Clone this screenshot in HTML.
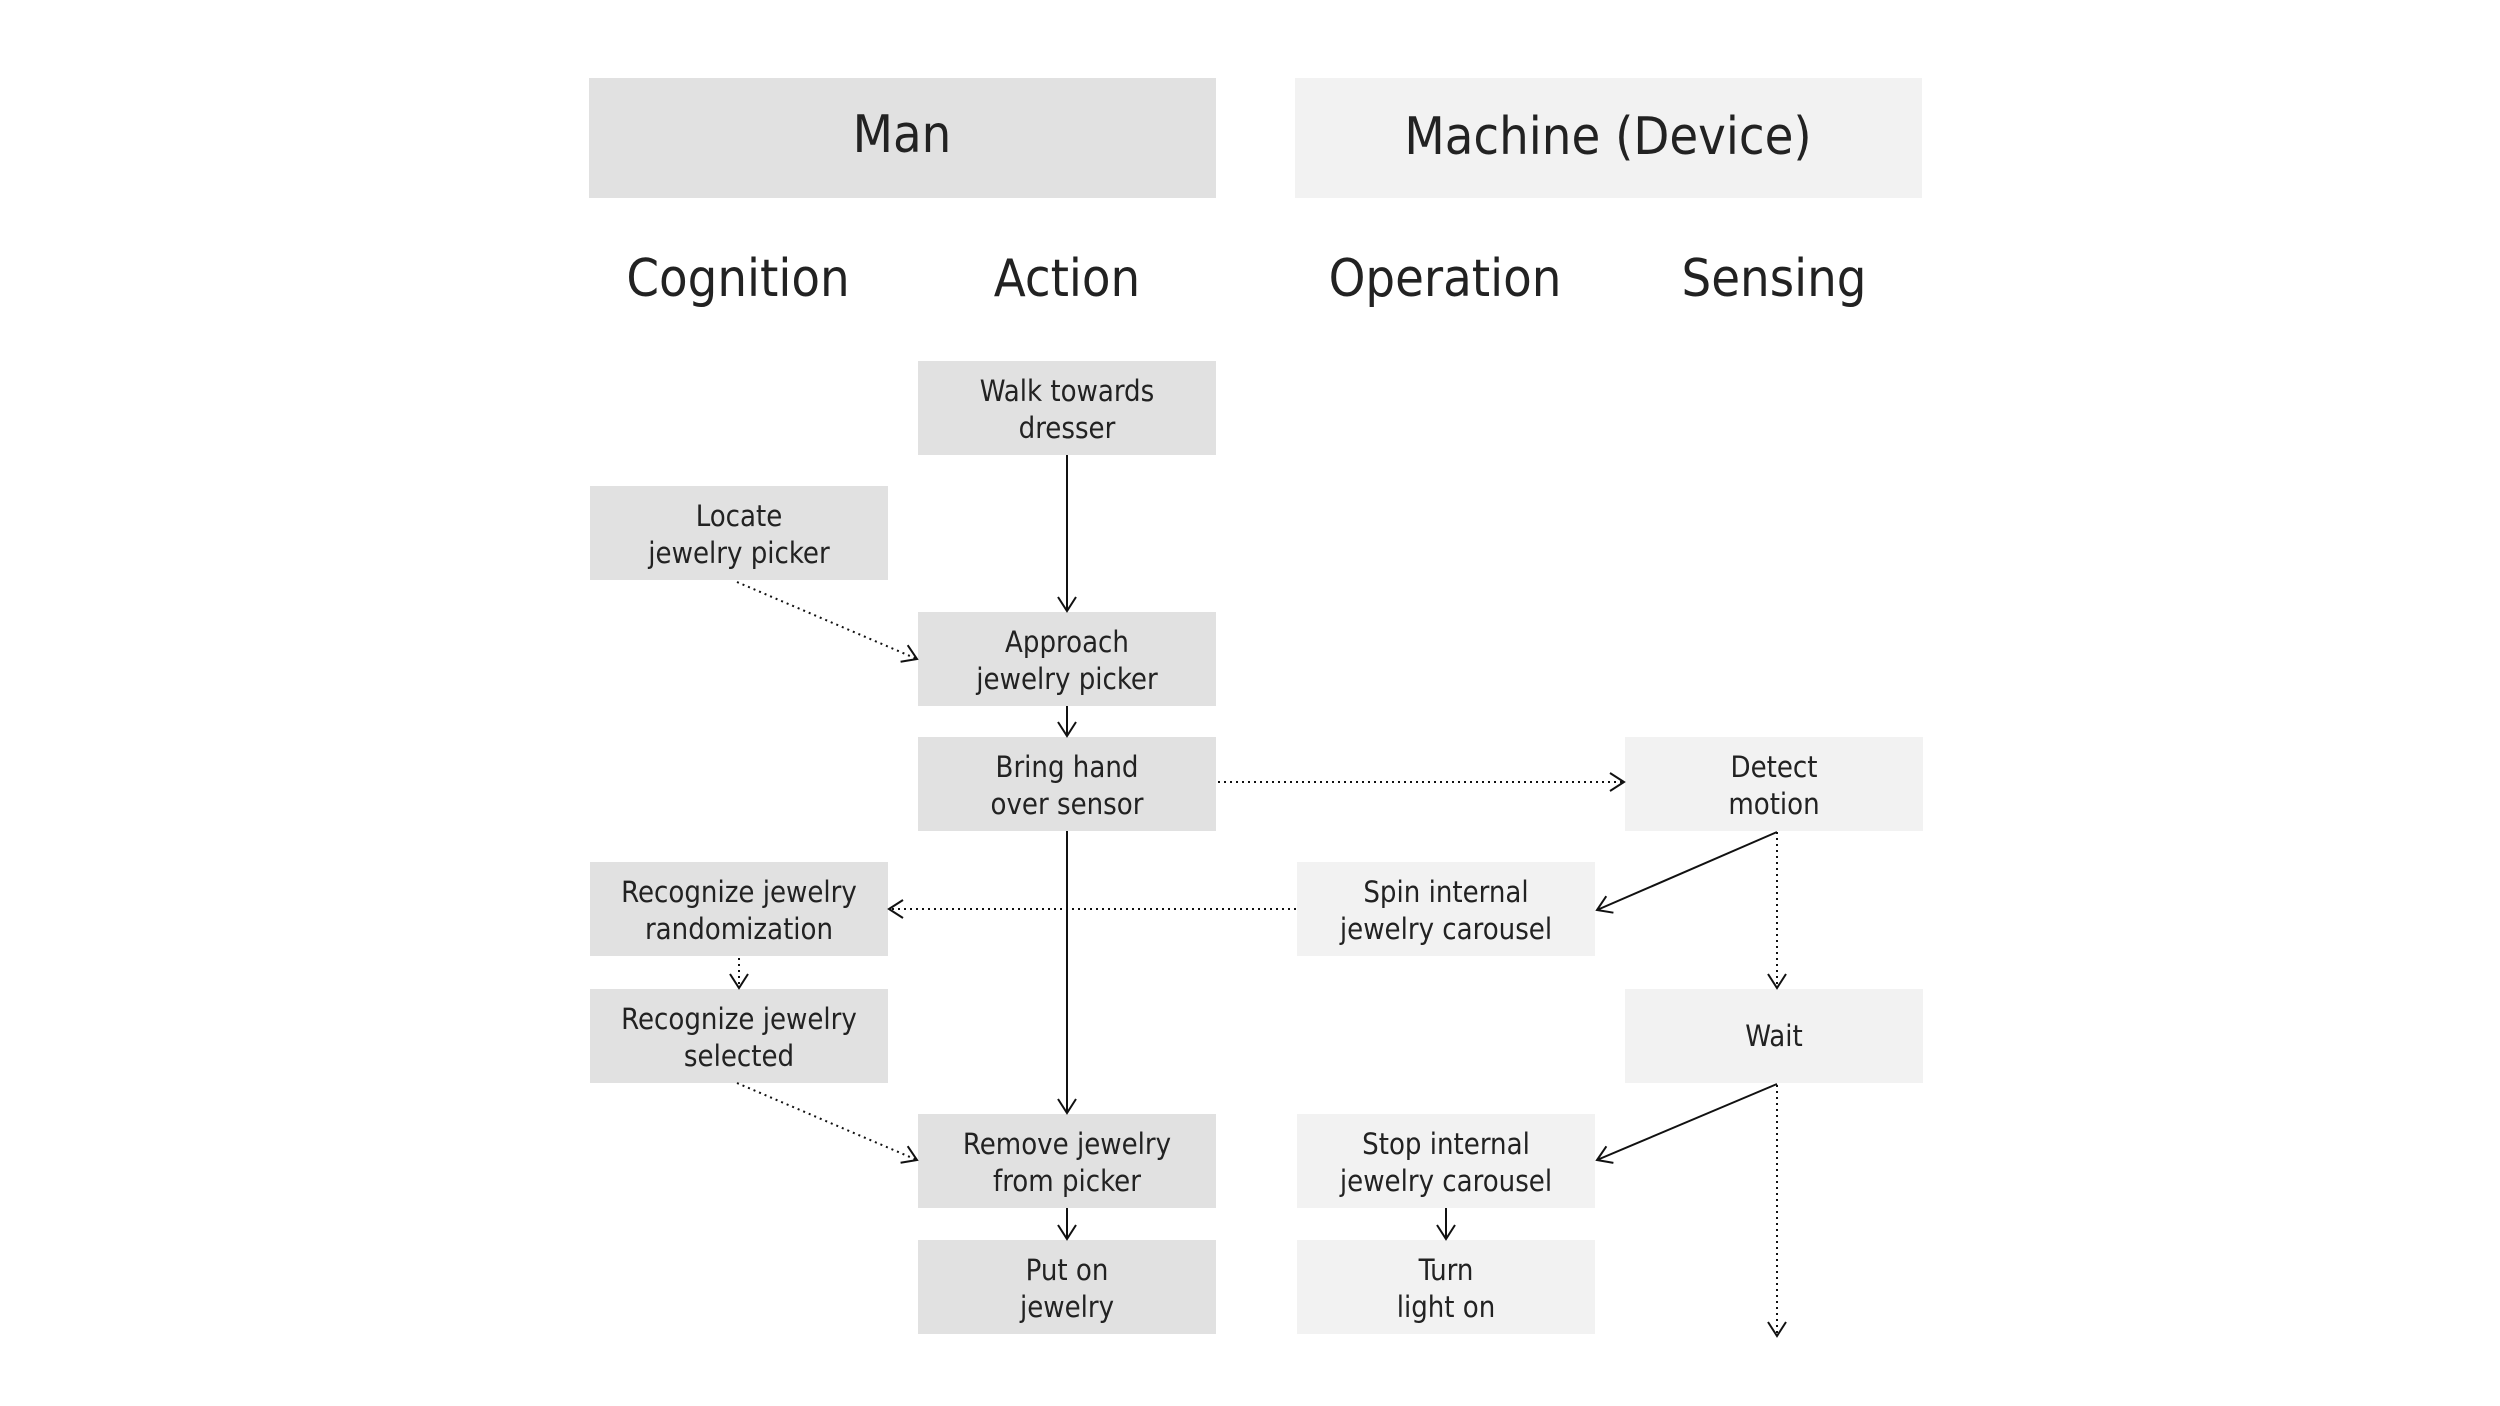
<!DOCTYPE html>
<html><head><meta charset="utf-8"><style>
html,body{margin:0;padding:0;background:#fff;}
svg{display:block;}
text{font-family:"Liberation Sans Narrow","DejaVu Sans Condensed","Liberation Sans",sans-serif;fill:#222;text-anchor:middle;}
.h{font-size:52px;font-weight:300;}
.b{font-size:29px;}
</style></head><body>
<svg width="2500" height="1406" viewBox="0 0 2500 1406" xmlns="http://www.w3.org/2000/svg">
<defs>
<marker id="a" markerUnits="userSpaceOnUse" markerWidth="20" markerHeight="24" refX="16" refY="10" orient="auto">
<path d="M2,1 L16,10 L2,19" fill="none" stroke="#111" stroke-width="2"/>
</marker>
</defs>
<rect x="589" y="78" width="627" height="120" fill="#e1e1e1"/>
<rect x="1295" y="78" width="627" height="120" fill="#f2f2f2"/>
<text class="h" x="902" y="152">Man</text>
<text class="h" x="1608" y="154">Machine (Device)</text>
<text class="h" x="738" y="296">Cognition</text>
<text class="h" x="1067" y="296">Action</text>
<text class="h" x="1445" y="296">Operation</text>
<text class="h" x="1774" y="296">Sensing</text>

<g>
<rect x="918" y="361" width="298" height="94" fill="#e1e1e1"/>
<text class="b" x="1067" y="401">Walk towards</text><text class="b" x="1067" y="438">dresser</text>
<rect x="590" y="486" width="298" height="94" fill="#e1e1e1"/>
<text class="b" x="739" y="526">Locate</text><text class="b" x="739" y="563">jewelry picker</text>
<rect x="918" y="612" width="298" height="94" fill="#e1e1e1"/>
<text class="b" x="1067" y="652">Approach</text><text class="b" x="1067" y="689">jewelry picker</text>
<rect x="918" y="737" width="298" height="94" fill="#e1e1e1"/>
<text class="b" x="1067" y="777">Bring hand</text><text class="b" x="1067" y="814">over sensor</text>
<rect x="1625" y="737" width="298" height="94" fill="#f2f2f2"/>
<text class="b" x="1774" y="777">Detect</text><text class="b" x="1774" y="814">motion</text>
<rect x="590" y="862" width="298" height="94" fill="#e1e1e1"/>
<text class="b" x="739" y="902">Recognize jewelry</text><text class="b" x="739" y="939">randomization</text>
<rect x="1297" y="862" width="298" height="94" fill="#f2f2f2"/>
<text class="b" x="1446" y="902">Spin internal</text><text class="b" x="1446" y="939">jewelry carousel</text>
<rect x="590" y="989" width="298" height="94" fill="#e1e1e1"/>
<text class="b" x="739" y="1029">Recognize jewelry</text><text class="b" x="739" y="1066">selected</text>
<rect x="1625" y="989" width="298" height="94" fill="#f2f2f2"/>
<text class="b" x="1774" y="1046">Wait</text>
<rect x="918" y="1114" width="298" height="94" fill="#e1e1e1"/>
<text class="b" x="1067" y="1154">Remove jewelry</text><text class="b" x="1067" y="1191">from picker</text>
<rect x="1297" y="1114" width="298" height="94" fill="#f2f2f2"/>
<text class="b" x="1446" y="1154">Stop internal</text><text class="b" x="1446" y="1191">jewelry carousel</text>
<rect x="918" y="1240" width="298" height="94" fill="#e1e1e1"/>
<text class="b" x="1067" y="1280">Put on</text><text class="b" x="1067" y="1317">jewelry</text>
<rect x="1297" y="1240" width="298" height="94" fill="#f2f2f2"/>
<text class="b" x="1446" y="1280">Turn</text><text class="b" x="1446" y="1317">light on</text>
</g>

<g fill="none" stroke="#111" stroke-width="2" marker-end="url(#a)">
<line x1="1067" y1="455" x2="1067" y2="611"/>
<line x1="1067" y1="706" x2="1067" y2="736"/>
<line x1="1067" y1="831" x2="1067" y2="1113"/>
<line x1="1067" y1="1208" x2="1067" y2="1239"/>
<line x1="1446" y1="1208" x2="1446" y2="1239"/>
<line x1="1777" y1="832" x2="1597" y2="910"/>
<line x1="1777" y1="1084" x2="1597" y2="1160"/>
</g>
<g fill="none" stroke="#111" stroke-width="2" stroke-dasharray="2 4" marker-end="url(#a)">
<line x1="737" y1="582" x2="917" y2="659"/>
<line x1="1218" y1="782" x2="1624" y2="782"/>
<line x1="1777" y1="832" x2="1777" y2="988"/>
<line x1="1296" y1="909" x2="889" y2="909"/>
<line x1="739" y1="958" x2="739" y2="988"/>
<line x1="737" y1="1083" x2="917" y2="1160"/>
<line x1="1777" y1="1085" x2="1777" y2="1336"/>
</g>
</svg>
</body></html>
